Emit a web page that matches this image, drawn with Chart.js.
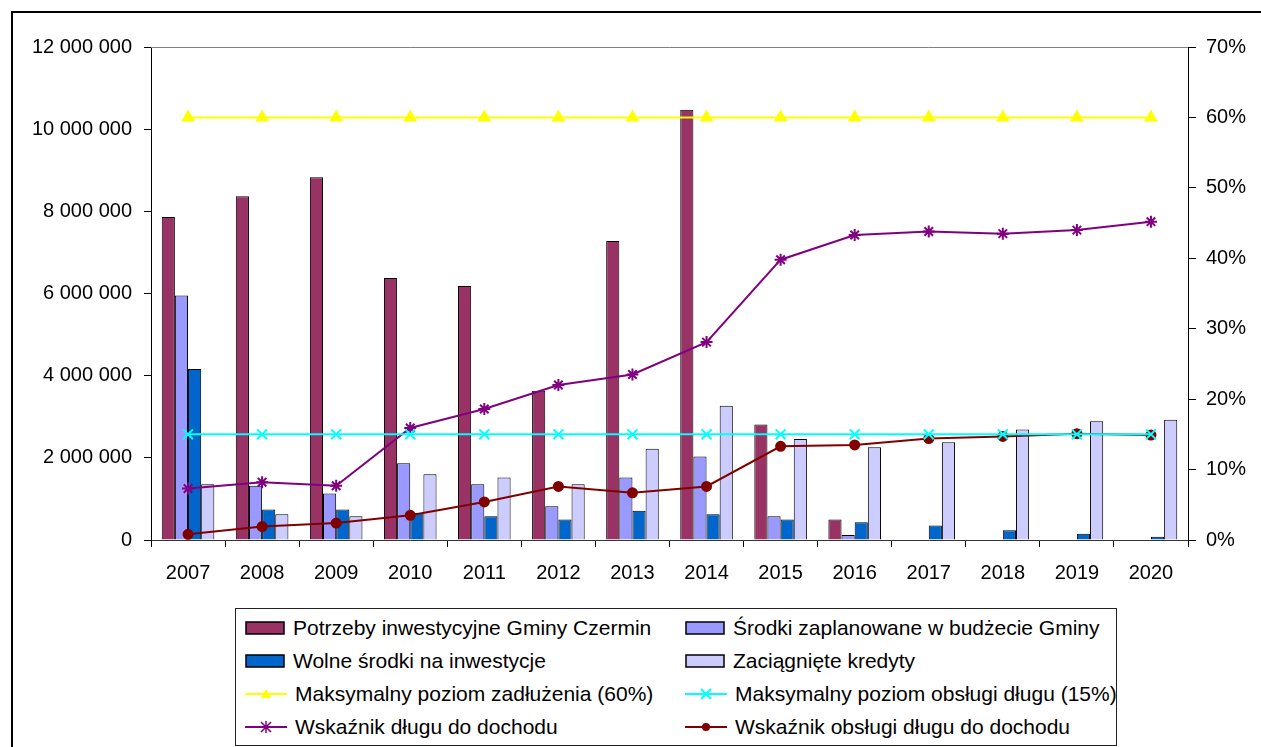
<!DOCTYPE html>
<html>
<head>
<meta charset="utf-8">
<script src="https://cdn.jsdelivr.net/npm/chart.js@4.4.1/dist/chart.umd.min.js"></script>
<style>
  body { margin: 0; background: #fff; font-family: "Liberation Sans", Arial, sans-serif; }
  #wrap { position: relative; width: 1261px; height: 747px; overflow: hidden; }
  #ramka { position: absolute; left: 11px; top: 11px; width: 1300px; height: 800px; border: 2px solid #000; box-sizing: border-box; }
  #wykres { position: absolute; left: 0; top: 0; }
  #legenda { position: absolute; left: 235px; top: 608px; width: 882px; height: 138px; border: 1px solid #222; box-sizing: border-box; background: #fff; }
  .poz { position: absolute; height: 24px; display: flex; align-items: center; font-size: 21px; color: #000; white-space: nowrap; }
  .poz svg { margin-right: 8px; }
</style>
</head>
<body>
<div id="wrap">
  <div id="ramka"></div>
  <canvas id="wykres" width="1261" height="747"></canvas>
  <div id="legenda"></div>
</div>
<script>
// --- Dane ---
const lata = ['2007', '2008', '2009', '2010', '2011', '2012', '2013', '2014', '2015', '2016', '2017', '2018', '2019', '2020'];

const potrzeby = [7860000, 8370000, 8830000, 6380000, 6180000, 3630000, 7280000, 10470000, 2810000, 500000, 0, 0, 0, 0];
const srodkiBudzet = [5950000, 1320000, 1130000, 1870000, 1360000, 820000, 1520000, 2030000, 580000, 120000, 0, 0, 0, 0];
const wolneSrodki = [4160000, 740000, 740000, 660000, 580000, 500000, 710000, 625000, 500000, 430000, 350000, 240000, 150000, 80000];
const kredyty = [1360000, 625000, 580000, 1600000, 1520000, 1360000, 2220000, 3270000, 2460000, 2260000, 2380000, 2690000, 2890000, 2930000];

const maxZadluzenie = [60, 60, 60, 60, 60, 60, 60, 60, 60, 60, 60, 60, 60, 60];
const maxObsluga = [15, 15, 15, 15, 15, 15, 15, 15, 15, 15, 15, 15, 15, 15];
const wskDlugu = [7.3, 8.2, 7.7, 15.9, 18.6, 22.0, 23.5, 28.1, 39.8, 43.3, 43.8, 43.5, 44.0, 45.2];
const wskObslugi = [0.8, 1.9, 2.4, 3.5, 5.4, 7.6, 6.7, 7.6, 13.3, 13.5, 14.4, 14.7, 15.1, 14.9];

Chart.defaults.font.family = '"Liberation Sans", Arial, sans-serif';
Chart.defaults.font.size = 20;
Chart.defaults.color = '#000';

function slupek(label, data, kolor) {
  return {
    type: 'bar', label, data, yAxisID: 'y', order: 2,
    backgroundColor: kolor, borderColor: '#000', borderWidth: 1,
    categoryPercentage: 0.71, barPercentage: 1
  };
}

function linia(label, data, kolor, styl, r) {
  return {
    type: 'line', label, data, yAxisID: 'y1', order: 1,
    borderColor: kolor, backgroundColor: kolor, borderWidth: 2,
    pointStyle: styl, pointRadius: r, pointHoverRadius: r,
    pointBorderColor: kolor, pointBackgroundColor: kolor, pointBorderWidth: 2,
    tension: 0, fill: false
  };
}

const zbiory = [
  slupek('Potrzeby inwestycyjne Gminy Czermin', potrzeby, '#993366'),
  slupek('Środki zaplanowane w budżecie Gminy', srodkiBudzet, '#9999FF'),
  slupek('Wolne środki na inwestycje', wolneSrodki, '#0066CC'),
  slupek('Zaciągnięte kredyty', kredyty, '#CCCCFF'),
  linia('Maksymalny poziom zadłużenia (60%)', maxZadluzenie, '#FFFF00', 'triangle', 6),
  linia('Maksymalny poziom obsługi długu (15%)', maxObsluga, '#00FFFF', 'crossRot', 7),
  linia('Wskaźnik długu do dochodu', wskDlugu, '#800080', 'star', 6),
  linia('Wskaźnik obsługi długu do dochodu', wskObslugi, '#800000', 'circle', 4.5)
];

// gorna krawedz obszaru wykresu
const ramkaObszaru = {
  id: 'ramkaObszaru',
  afterDraw(chart) {
    const { ctx, chartArea: a } = chart;
    ctx.save();
    ctx.strokeStyle = '#808080';
    ctx.lineWidth = 1;
    ctx.beginPath();
    ctx.moveTo(a.left, a.top + 0.5);
    ctx.lineTo(a.right, a.top + 0.5);
    ctx.stroke();
    ctx.restore();
  }
};

new Chart(document.getElementById('wykres'), {
  data: { labels: lata, datasets: zbiory },
  options: {
    responsive: false,
    animation: false,
    layout: { padding: { top: 47, left: 0, right: 0, bottom: 0 } },
    plugins: { legend: { display: false }, tooltip: { enabled: false } },
    scales: {
      x: {
        offset: true,
        grid: { offset: true, drawOnChartArea: false, tickLength: 7, color: '#000' },
        border: { color: '#333', width: 1 },
        ticks: { padding: 14, maxRotation: 0 },
        afterFit(s) { s.height = 207; }
      },
      y: {
        position: 'left', min: 0, max: 12000000,
        ticks: {
          stepSize: 2000000, padding: 12,
          callback: v => String(v).replace(/\B(?=(\d{3})+(?!\d))/g, ' ')
        },
        grid: { drawOnChartArea: false, tickLength: 7, color: '#000' },
        border: { color: '#000', width: 1 },
        afterFit(s) { s.width = 151; }
      },
      y1: {
        position: 'right', min: 0, max: 70,
        ticks: { stepSize: 10, padding: 10, callback: v => v + '%' },
        grid: { drawOnChartArea: false, tickLength: 8, color: '#000' },
        border: { color: '#000', width: 1 },
        afterFit(s) { s.width = 73; }
      }
    }
  },
  plugins: [ramkaObszaru]
});

// --- Legenda ---
function ikona(d) {
  if (d.type === 'bar') {
    return `<svg width="40" height="14"><rect x="1" y="1" width="38" height="12" fill="${d.backgroundColor}" stroke="#000" stroke-width="1.5"/></svg>`;
  }
  const c = d.borderColor;
  let znak = '';
  if (d.pointStyle === 'triangle') znak = `<polygon points="21,2 26,11 16,11" fill="${c}"/>`;
  if (d.pointStyle === 'crossRot') znak = `<path d="M16,2 L26,12 M26,2 L16,12" stroke="${c}" stroke-width="2"/>`;
  if (d.pointStyle === 'star') znak = `<path d="M21,1 L21,13 M16,2 L26,12 M26,2 L16,12" stroke="${c}" stroke-width="1.5"/>`;
  if (d.pointStyle === 'circle') znak = `<circle cx="21" cy="7" r="4" fill="${c}"/>`;
  return `<svg width="42" height="14"><line x1="0" y1="7" x2="42" y2="7" stroke="${c}" stroke-width="2"/>${znak}</svg>`;
}

const legenda = document.getElementById('legenda');
const kolumnyX = [9, 449];
const wierszeY = [7, 40, 73, 106];
zbiory.forEach((d, i) => {
  const el = document.createElement('div');
  el.className = 'poz';
  el.style.left = kolumnyX[i % 2] + 'px';
  el.style.top = wierszeY[Math.floor(i / 2)] + 'px';
  el.innerHTML = ikona(d) + '<span>' + d.label + '</span>';
  legenda.appendChild(el);
});
</script>
</body>
</html>
